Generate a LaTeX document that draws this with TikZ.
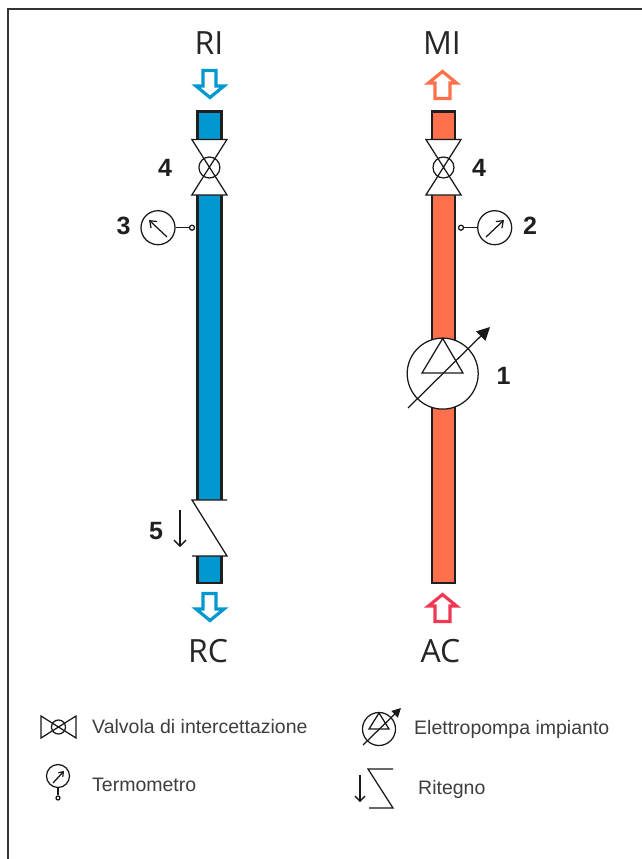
\documentclass[tikz,border=0pt]{standalone}
\usepackage{fontspec}
\setmainfont{Liberation Sans}
\newfontfamily\tagfont{Open Sans}
\usetikzlibrary{arrows.meta}
\definecolor{coldblue}{RGB}{0,152,207}
\definecolor{hotred}{RGB}{253,112,75}
\definecolor{inred}{RGB}{240,56,84}
\definecolor{inkgray}{RGB}{62,62,62}
\tikzset{
  pipe/.style={draw=black!88,line width=2.7pt},
  sym/.style={draw=black!90,line width=1.25pt},
  flow/.style={line width=3.2pt,fill=white,miter limit=10},
  tag/.style={font=\tagfont\fontsize{32}{32}\selectfont,text=black!85,inner sep=0pt},
  num/.style={font=\bfseries\fontsize{25}{25}\selectfont,text=black!88,inner sep=0pt},
  leg/.style={font=\fontsize{19.5}{20}\selectfont,text=inkgray,anchor=west,inner sep=0pt},
  dial/.style={circle,sym,fill=white,minimum size=#1,inner sep=0pt},
  tap/.style={circle,sym,fill=white,minimum size=5pt,inner sep=0pt}
}
\newcommand{\valvesym}[4]{% x y half-width half-height
  \draw[sym,fill=white] (#1-#3,#2-#4) -- (#1+#3,#2-#4) -- (#1-#3,#2+#4) -- (#1+#3,#2+#4) -- cycle;
}
\begin{document}
\begin{tikzpicture}[x=1pt,y=-1pt]
  \useasboundingbox (0,0) rectangle (642,859);
  \fill[white] (0,0) rectangle (642,859);
  \draw[line width=1.3pt,black!80] (8,859) -- (8,9) -- (642,9);
  % cold line
  \fill[coldblue] (197.5,111) rectangle (221.5,139);
  \fill[coldblue] (197.5,195) rectangle (221.5,500);
  \fill[coldblue] (197.5,556) rectangle (221.5,583);
  \draw[pipe] (197.5,139) -- (197.5,111.5) -- (221.5,111.5) -- (221.5,139);
  \draw[pipe] (197.5,195) -- (197.5,500) (221.5,195) -- (221.5,500);
  \draw[pipe] (197.5,556) -- (197.5,583) -- (221.5,583) -- (221.5,556);
  % hot line
  \fill[hotred] (432,111) rectangle (455,139);
  \fill[hotred] (432,195) rectangle (455,583);
  \draw[pipe] (432,139) -- (432,111.5) -- (455,111.5) -- (455,139);
  \draw[pipe] (432,195) -- (432,583) -- (455,583) -- (455,195);
  % valves
  \valvesym{209.4}{167.2}{17.6}{27.8}
  \valvesym{443.5}{167.2}{17.6}{27.8}
  \node[dial=21pt,fill=none] (valveA) at (209.4,167.5) {};
  \node[dial=21pt,fill=none] (valveB) at (443.5,167.5) {};
  % thermometers
  \node[dial=34pt] (thermoA) at (158,227.7) {};
  \node[dial=34pt] (thermoB) at (494.7,227.7) {};
  \node[tap] (tapA) at (192,227.7) {};
  \node[tap] (tapB) at (461,227.7) {};
  \draw[sym] (thermoA) -- (tapA);
  \draw[sym] (thermoB) -- (tapB);
  \draw[sym,-{Straight Barb[length=6pt,width=9pt]}] (167,237) -- (149,220);
  \draw[sym,-{Straight Barb[length=6pt,width=9pt]}] (486,237) -- (504,220);
  % pump
  \node[dial=71pt] (pump) at (442.7,373.6) {};
  \draw[sym] (442.7,338.5) -- (463,373) -- (422,373) -- cycle;
  \draw[sym,-{Triangle[length=13pt,width=13pt]}] (408,408) -- (490,327);
  % check valve
  \draw[sym] (227,500) -- (192,500) -- (227,556) -- (192,556);
  \draw[sym,-{Straight Barb[length=6pt,width=12pt]}] (180,510) -- (180,547);
  % flow arrows
  \draw[flow,draw=coldblue] (203,70.5) -- (216,70.5) -- (216,86) -- (224,86) -- (210,97.5) -- (196,86) -- (203,86) -- cycle;
  \draw[flow,draw=coldblue] (203,593.5) -- (216,593.5) -- (216,609) -- (224,609) -- (210,620.5) -- (196,609) -- (203,609) -- cycle;
  \draw[flow,draw=hotred] (435,98.5) -- (450,98.5) -- (450,83) -- (456.5,83) -- (442.5,71.5) -- (428.5,83) -- (435,83) -- cycle;
  \draw[flow,draw=inred] (435,621.5) -- (450,621.5) -- (450,606) -- (456.5,606) -- (442.5,594.5) -- (428.5,606) -- (435,606) -- cycle;
  % labels
  \node[tag] (ri) at (209,43.5) {RI};
  \node[tag] (mi) at (442,43.5) {MI};
  \node[tag] (rc) at (208,651.5) {RC};
  \node[tag] (ac) at (440.5,651.5) {AC};
  \node[num] (n4a) at (165,168) {4};
  \node[num] (n4b) at (479,168) {4};
  \node[num] (n3) at (123.5,225.5) {3};
  \node[num] (n2) at (530,225.5) {2};
  \node[num] (n1) at (503.5,375.5) {1};
  \node[num] (n5) at (156,531) {5};
  % legend
  \draw[sym] (41,716) -- (41,738) -- (76,716) -- (76,738) -- cycle;
  \node[dial=14pt,fill=none] (legvalve) at (58.5,727) {};
  \node[leg,anchor=base west] (legA) at (92,733.5) {Valvola di intercettazione};
  \node[dial=23pt,fill=none] (legthermo) at (58,776) {};
  \node[tap,minimum size=4pt] (legtap) at (58,798) {};
  \draw[sym] (legthermo) -- (legtap);
  \draw[sym,-{Straight Barb[length=4pt,width=6pt]}] (53,783) -- (64,771);
  \node[leg,anchor=base west] (legB) at (92,791.5) {Termometro};
  \node[dial=33pt,fill=none] (legpump) at (379,729) {};
  \draw[sym] (379,713) -- (389,729) -- (369,729) -- cycle;
  \draw[sym,-{Triangle[length=9pt,width=9pt]}] (363,745) -- (401,708);
  \node[leg,anchor=base west] (legC) at (414,734) {Elettropompa impianto};
  \draw[sym] (393,769) -- (368,769) -- (393,808) -- (369,808);
  \draw[sym,-{Straight Barb[length=5pt,width=10pt]}] (360,775) -- (360,802);
  \node[leg,anchor=base west] (legD) at (418,794.5) {Ritegno};
\end{tikzpicture}
\end{document}
